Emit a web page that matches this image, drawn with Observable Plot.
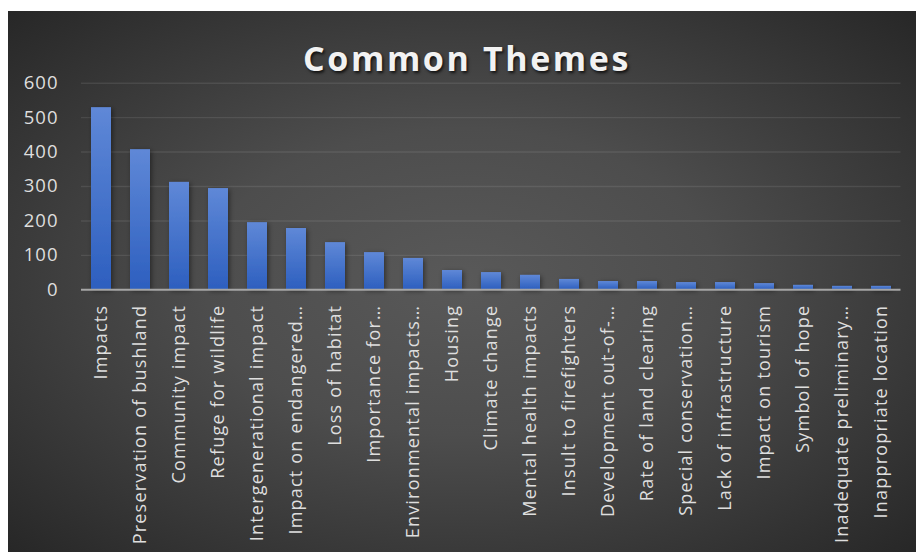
<!DOCTYPE html>
<html>
<head>
<meta charset="utf-8">
<script src="https://cdn.jsdelivr.net/npm/d3@7"></script>
<script src="https://cdn.jsdelivr.net/npm/@observablehq/plot@0.6"></script>
<style>
  html, body { margin: 0; padding: 0; background: #ffffff; }
  #wrap { position: relative; width: 916px; height: 552px; overflow: hidden; }
  #panel {
    position: absolute; left: 8px; top: 11px; width: 908px; height: 541px;
    background: radial-gradient(ellipse farthest-corner at 50% 50%, #595959 0%, #4d4d4d 40%, #272727 100%);
  }
  #title {
    position: absolute; left: 217px; width: 500px; top: 41px; line-height: 34px;
    text-align: center; font-family: "Open Sans", sans-serif; font-weight: bold; font-size: 34px;
    letter-spacing: 2.6px; color: #f2f2f2;
    text-shadow: 1.5px 2px 3px rgba(0,0,0,0.75);
  }
  #chart { position: absolute; left: 0; top: 0; }
  #chart svg g[aria-label="x-axis tick label"] text { letter-spacing: 1.2px; }
  #chart svg g[aria-label="y-axis tick label"] text { letter-spacing: 1px; }
</style>
</head>
<body>
<div id="wrap">
  <div id="panel"></div>
  <div id="chart"></div>
  <div id="title">Common Themes</div>
</div>
<script>
const categories = [
  "Impacts",
  "Preservation of bushland",
  "Community impact",
  "Refuge for wildlife",
  "Intergenerational impact",
  "Impact on endangered…",
  "Loss of habitat",
  "Importance for…",
  "Environmental impacts…",
  "Housing",
  "Climate change",
  "Mental health impacts",
  "Insult to firefighters",
  "Development out-of-…",
  "Rate of land clearing",
  "Special conservation…",
  "Lack of infrastructure",
  "Impact on tourism",
  "Symbol of hope",
  "Inadequate preliminary…",
  "Inappropriate location"
];
const counts = [529, 407, 312, 294, 195, 178, 137, 108, 91, 56, 50, 42, 30, 24, 24, 21, 21, 18, 13, 10, 10];
const yTicks = [0, 100, 200, 300, 400, 500, 600];

const data = categories.map((name, i) => ({name, value: counts[i]}));

const chart = Plot.plot({
  width: 916,
  height: 552,
  marginLeft: 81,
  marginRight: 15.5,
  marginTop: 82.7,
  marginBottom: 262.7,
  style: {background: "transparent", fontFamily: "'Open Sans', sans-serif", color: "#d9d9d9", overflow: "visible"},
  x: {domain: categories, paddingInner: 0.49, paddingOuter: 0.245, label: null},
  y: {domain: [0, 600], label: null},
  marks: [
    Plot.gridY(yTicks.filter(d => d > 0), {stroke: "#ffffff", strokeOpacity: 0.09, strokeWidth: 1.4}),
    Plot.barY(data, {x: "name", y: "value", fill: "url(#barGrad)"}),
    Plot.ruleY([0], {stroke: "#a6a6a6", strokeWidth: 2}),
    Plot.axisY({ticks: yTicks, tickSize: 0, tickPadding: 23, fontSize: 18.5, fill: "#dedede", label: null}),
    Plot.axisX({tickRotate: -90, tickSize: 0, tickPadding: 15, fontSize: 18, fill: "#dedede", label: null})
  ]
});

const svg = d3.select(chart);
const defs = svg.insert("defs", ":first-child");
const grad = defs.append("linearGradient").attr("id", "barGrad").attr("x1", 0).attr("y1", 0).attr("x2", 0).attr("y2", 1);
grad.append("stop").attr("offset", "0%").attr("stop-color", "#5f88d7");
grad.append("stop").attr("offset", "100%").attr("stop-color", "#2d5fbf");
const filt = defs.append("filter").attr("id", "barShadow").attr("x", "-50%").attr("y", "-20%").attr("width", "200%").attr("height", "140%");
filt.append("feDropShadow").attr("dx", 1.5).attr("dy", 1.5).attr("stdDeviation", 2.5).attr("flood-color", "#000").attr("flood-opacity", 0.45);
svg.selectAll('g[aria-label="bar"]').attr("filter", "url(#barShadow)");

document.getElementById("chart").appendChild(chart);
</script>
</body>
</html>
